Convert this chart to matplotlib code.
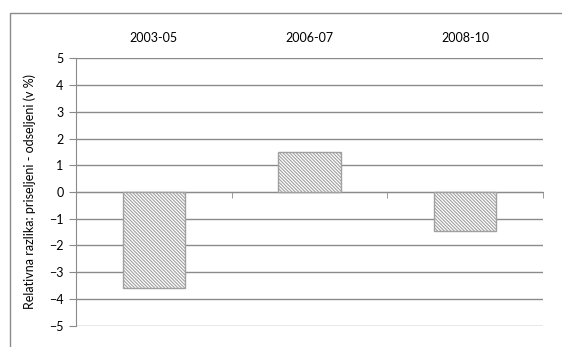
import matplotlib
matplotlib.use("Agg")
import matplotlib.pyplot as plt
from matplotlib.patches import Rectangle

# data
periods = ["2003-05", "2006-07", "2008-10"]
diff = [-3.6, 1.5, -1.45]
yticks = list(range(-5, 6))

plt.rcParams['font.family'] = ['Lato', 'DejaVu Sans']
plt.rcParams['font.size'] = 9
plt.rcParams['hatch.linewidth'] = 0.8

grey = '#8a8a8a'

fig = plt.figure(figsize=(5.62, 3.47), dpi=100)
ax = fig.add_axes([76/562, 1 - 325.7/347, (543 - 76)/562, (325.7 - 58.3)/347])

# outer chart frame (cropped on right and bottom like the source)
fig.patches.append(Rectangle((10/562, -0.1), 1.2, 1.1 - 12.7/347,
                             transform=fig.transFigure, fill=False,
                             edgecolor=grey, linewidth=1.0))

x = range(len(periods))
ax.bar(x, diff, width=0.4, color='white', edgecolor='#a0a0a0',
       hatch='\\' * 10, linewidth=1.0, zorder=3)

ax.set_xlim(-0.5, len(periods) - 0.5)
ax.set_ylim(-5, 5)
ax.set_yticks(yticks)
ax.yaxis.grid(True, color=grey, linewidth=1.0)
ax.set_axisbelow(True)

ax.set_xticks(list(x))
ax.set_xticklabels(periods)
ax.set_xticks([0.5, 1.5, 2.5], minor=True)
ax.tick_params(axis='x', which='major', length=0, top=False, bottom=False,
               labeltop=True, labelbottom=False, pad=10)
ax.tick_params(axis='x', which='minor', length=4, color=grey, bottom=True,
               direction='out')
ax.tick_params(axis='y', length=5, color=grey, pad=4)

for s in ['top', 'right']:
    ax.spines[s].set_visible(False)
ax.spines['bottom'].set_position(('data', 0))
ax.spines['bottom'].set_color(grey)
ax.spines['left'].set_color(grey)

ax.set_ylabel('Relativna razlika: priseljeni - odseljeni (v %)', labelpad=9)

fig.savefig('out.png', dpi=100)
